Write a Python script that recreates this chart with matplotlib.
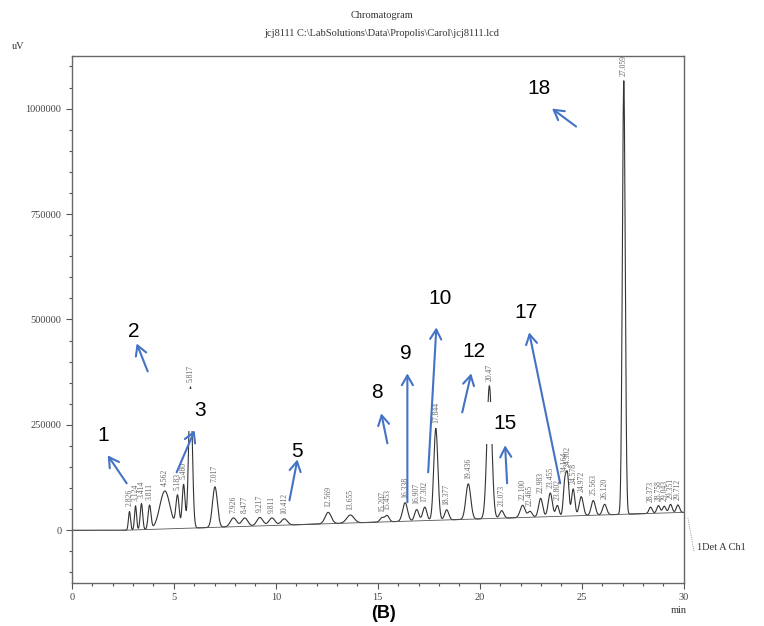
import numpy as np
import matplotlib
matplotlib.use("Agg")
import matplotlib.pyplot as plt
from matplotlib.ticker import FuncFormatter

# peak table: retention time (min), height above baseline (uV), width (sigma, min)
rt = [2.826, 3.124, 3.414, 3.811, 4.562, 5.183, 5.480, 5.817, 7.017, 7.926,
      8.477, 9.217, 9.811, 10.412, 12.569, 13.655, 15.207, 15.453, 16.338, 16.907,
      17.302, 17.844, 18.377, 19.436, 20.47, 21.073, 22.100, 22.465, 22.983, 23.455,
      23.802, 24.164, 24.302, 24.578, 24.972, 25.563, 26.120, 27.059, 28.373, 28.758,
      29.043, 29.351, 29.712]
height = [44000, 57000, 62000, 57000, 90000, 76000, 104000, 335000, 96000, 21000,
          20000, 20000, 18000, 15000, 27000, 19000, 10000, 15000, 44000, 27000,
          32000, 218000, 24000, 84000, 315000, 18000, 29000, 14000, 44000, 56000,
          26000, 78000, 92000, 64000, 45000, 35000, 25000, 1028000, 15000, 18000,
          16000, 20000, 18000]
sigma = [0.05, 0.05, 0.06, 0.07, 0.25, 0.08, 0.07, 0.09, 0.12, 0.15,
         0.15, 0.15, 0.15, 0.15, 0.15, 0.18, 0.1, 0.1, 0.12, 0.1,
         0.1, 0.1, 0.1, 0.12, 0.12, 0.1, 0.12, 0.1, 0.1, 0.1,
         0.08, 0.07, 0.07, 0.08, 0.1, 0.1, 0.1, 0.07, 0.08, 0.08,
         0.08, 0.08, 0.08]
peak_labels = ["2.826", "3.124", "3.414", "3.811", "4.562", "5.183", "5.480", "5.817", "7.017", "7.926",
               "8.477", "9.217", "9.811", "10.412", "12.569", "13.655", "15.207", "15.453", "16.338", "16.907",
               "17.302", "17.844", "18.377", "19.436", "20.47", "21.073", "22.100", "22.465", "22.983", "23.455",
               "23.802", "24.164", "24.302", "24.578", "24.972", "25.563", "26.120", "27.059", "28.373", "28.758",
               "29.043", "29.351", "29.712"]

# baseline drift: start time, end time, end level
base_t = [2.5, 30.0]
base_v = [0, 42500]

# numbered compounds: label, text pos, arrow head, arrow tail (data coords)
marks = ["1", "2", "3", "5", "8", "9", "10", "12", "15", "17", "18"]
mark_text = [(1.52, 225000), (3.03, 471600), (6.27, 284400), (11.06, 188000), (14.98, 327000),
             (16.35, 419500), (18.06, 549800), (19.73, 424200), (21.24, 253600), (22.27, 516700),
             (22.91, 1047500)]
mark_head = [(1.76, 177700), (3.18, 443000), (6.02, 237000), (11.06, 168000), (15.17, 277300),
             (16.45, 372100), (17.87, 481100), (19.58, 372100), (21.24, 201500), (22.42, 469300),
             (23.54, 1000100)]
mark_tail = [(2.69, 111400), (3.72, 376800), (5.14, 137500), (10.67, 71100), (15.47, 206200),
             (16.45, 66400), (17.47, 137500), (19.14, 279700), (21.34, 111400), (23.94, 111400),
             (24.72, 957500)]

t = np.linspace(0, 30, 6001)
base = np.interp(t, base_t, base_v, left=0)
signal = base.copy()
for r, h, s in zip(rt, height, sigma):
    signal += h * np.exp(-0.5 * ((t - r) / s) ** 2)

fig = plt.figure(figsize=(7.64, 6.26), dpi=100)
ax = fig.add_axes([0.094, 0.0687, 0.801, 0.842])

serif = "Liberation Serif"
ax.plot(t, signal, color="#333333", lw=0.8)
bt = np.linspace(base_t[0], base_t[1], 2)
ax.plot(bt, np.interp(bt, base_t, base_v), color="#555555", lw=0.6)

for r, h, lab in zip(rt, height, peak_labels):
    top = np.interp(r, t, signal)
    ax.text(r, top + 12000, lab, rotation=90, ha="center", va="bottom",
            fontsize=5.5, color="#666666", family=serif)

blue = "#4472C4"
for m, tp, hd, tl in zip(marks, mark_text, mark_head, mark_tail):
    ax.annotate("", xy=hd, xytext=tl,
                arrowprops=dict(arrowstyle="->,head_length=0.7,head_width=0.4",
                                color=blue, lw=1.5, shrinkA=0, shrinkB=0), zorder=6)
    box = None
    if m in ("3", "15"):
        box = dict(boxstyle="square,pad=0.55", fc="white", ec="none")
    ax.text(tp[0], tp[1], m, fontsize=15, family="Liberation Sans", ha="center",
            va="center", color="black", bbox=box, zorder=5)

ax.set_xlim(0, 30)
ax.set_ylim(-125000, 1125000)
ax.set_xticks(range(0, 31, 5))
ax.set_xticks(range(0, 31), minor=True)
ax.set_yticks([0, 250000, 500000, 750000, 1000000])
ax.set_yticks(range(-100000, 1125001, 50000), minor=True)
ax.yaxis.set_major_formatter(FuncFormatter(lambda v, p: "%d" % v))
ax.tick_params(which="both", direction="out", colors="#555555", labelcolor="#444444",
               labelsize=7.5, width=0.8)
ax.tick_params(which="major", length=4)
ax.tick_params(which="minor", length=2.5)
for lb in ax.get_xticklabels() + ax.get_yticklabels():
    lb.set_family(serif)
for sp in ax.spines.values():
    sp.set_color("#666666")
    sp.set_linewidth(1.0)

fig.text(0.5, 0.975, "Chromatogram", ha="center", va="center", fontsize=7.5, family=serif, color="#333333")
fig.text(0.5, 0.947, r"jcj8111 C:\LabSolutions\Data\Propolis\Carol\jcj8111.lcd", ha="center",
         va="center", fontsize=7.5, family=serif, color="#333333")
fig.text(0.024, 0.925, "uV", ha="center", va="center", fontsize=7.5, family=serif, color="#333333")
fig.text(0.888, 0.024, "min", ha="center", va="center", fontsize=7.5, family=serif, color="#333333")
fig.text(0.912, 0.125, "1Det A Ch1", ha="left", va="center", fontsize=7.5, family=serif, color="#333333")
ax.plot([30.2, 30.5], [30000, -50000], color="#777777", lw=0.6, ls=":", clip_on=False)
fig.text(0.502, 0.02, "(B)", ha="center", va="center", fontsize=13, fontweight="bold",
         family="Liberation Sans")

fig.savefig("out.png", dpi=100)
